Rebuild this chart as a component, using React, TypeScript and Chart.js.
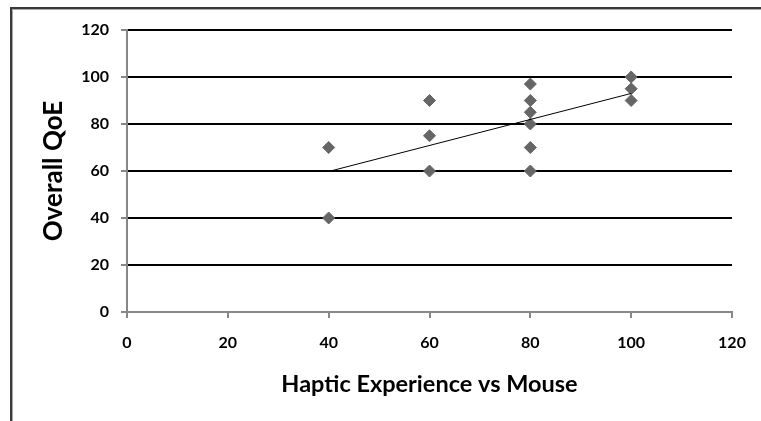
import { useEffect, useRef } from "react";
import { Chart, registerables } from "chart.js";

Chart.register(...registerables);

// Ratings per participant: haptic experience vs mouse (x) and overall QoE (y)
const hapticScores = [40, 40, 60, 60, 60, 80, 80, 80, 80, 80, 80, 100, 100, 100];
const qoeScores = [70, 40, 90, 75, 60, 97, 90, 85, 80, 70, 60, 100, 95, 90];

// Linear trend line endpoints
const trendX = [40, 100];
const trendY = [59.8, 93];

const axisMin = 0;
const axisMax = 120;
const axisStep = 20;

const xTitle = "Haptic Experience vs Mouse";
const yTitle = "Overall QoE";

const WIDTH = 761;
const HEIGHT = 421;

const FONT = "Lato, 'Open Sans', sans-serif";
const AXIS_GREY = "#878787";
const MARKER_GREY = "#666666";

// Draws the white background and the outer frame (left and top edges visible)
const framePlugin = {
  id: "outerFrame",
  beforeDraw(chart: any) {
    const ctx = chart.ctx as CanvasRenderingContext2D;
    ctx.save();
    ctx.fillStyle = "#ffffff";
    ctx.fillRect(0, 0, chart.width, chart.height);
    ctx.fillStyle = "#3a3a3a";
    ctx.fillRect(10, 7, 2, chart.height);
    ctx.fillRect(10, 7, chart.width, 2);
    ctx.fillStyle = "#a8a8a8";
    ctx.fillRect(12, 9, 1, chart.height);
    ctx.fillRect(12, 9, chart.width, 1);
    ctx.restore();
  },
};

export default function App() {
  const canvasRef = useRef<HTMLCanvasElement | null>(null);

  useEffect(() => {
    if (!canvasRef.current) return;

    const points = hapticScores.map((x, i) => ({ x, y: qoeScores[i] }));
    const trend = trendX.map((x, i) => ({ x, y: trendY[i] }));

    const chart = new Chart(canvasRef.current, {
      type: "scatter",
      data: {
        datasets: [
          {
            label: "Linear trend",
            data: trend,
            showLine: true,
            borderColor: "#000000",
            borderWidth: 1,
            pointRadius: 0,
            pointHoverRadius: 0,
            fill: false,
          },
          {
            label: "Overall QoE",
            data: points,
            pointStyle: "rectRot",
            pointRadius: 6,
            pointHoverRadius: 6,
            backgroundColor: MARKER_GREY,
            borderColor: MARKER_GREY,
            borderWidth: 1,
            showLine: false,
          },
        ],
      },
      options: {
        responsive: false,
        animation: false,
        devicePixelRatio: 1,
        layout: { padding: { left: 0, right: 29, top: 30, bottom: 0 } },
        plugins: {
          legend: { display: false },
          tooltip: { enabled: false },
        },
        scales: {
          x: {
            type: "linear",
            min: axisMin,
            max: axisMax,
            afterFit: (scale: any) => {
              scale.height = 109;
            },
            ticks: {
              stepSize: axisStep,
              padding: 15,
              color: "#000000",
              font: { family: FONT, size: 16, weight: "bold" },
            },
            grid: {
              drawOnChartArea: false,
              drawTicks: true,
              tickLength: 6,
              tickColor: AXIS_GREY,
              tickWidth: 2,
              color: AXIS_GREY,
              lineWidth: 2,
            },
            border: { display: true, color: AXIS_GREY, width: 2, z: 1 },
            title: {
              display: true,
              text: xTitle,
              color: "#000000",
              font: { family: FONT, size: 23.5, weight: "bold" },
              padding: { top: 0, bottom: 22 },
            },
          },
          y: {
            type: "linear",
            min: axisMin,
            max: axisMax,
            afterFit: (scale: any) => {
              scale.width = 127;
            },
            ticks: {
              stepSize: axisStep,
              padding: 12,
              color: "#000000",
              font: { family: FONT, size: 16, weight: "bold" },
            },
            grid: {
              drawOnChartArea: true,
              drawTicks: true,
              tickLength: 6,
              tickColor: AXIS_GREY,
              tickWidth: 2,
              color: (ctx: any) =>
                ctx.tick && ctx.tick.value === axisMin ? "rgba(0,0,0,0)" : "#000000",
              lineWidth: 2,
            },
            border: { display: true, color: AXIS_GREY, width: 2, z: 1 },
            title: {
              display: true,
              text: yTitle,
              color: "#000000",
              font: { family: FONT, size: 26, weight: "bold" },
              padding: { top: 38, bottom: 0 },
            },
          },
        },
      },
      plugins: [framePlugin],
    });

    return () => chart.destroy();
  }, []);

  return (
    <div
      style={{
        position: "fixed",
        left: 0,
        top: 0,
        width: WIDTH,
        height: HEIGHT,
        background: "#ffffff",
      }}
    >
      <canvas ref={canvasRef} width={WIDTH} height={HEIGHT} />
    </div>
  );
}
